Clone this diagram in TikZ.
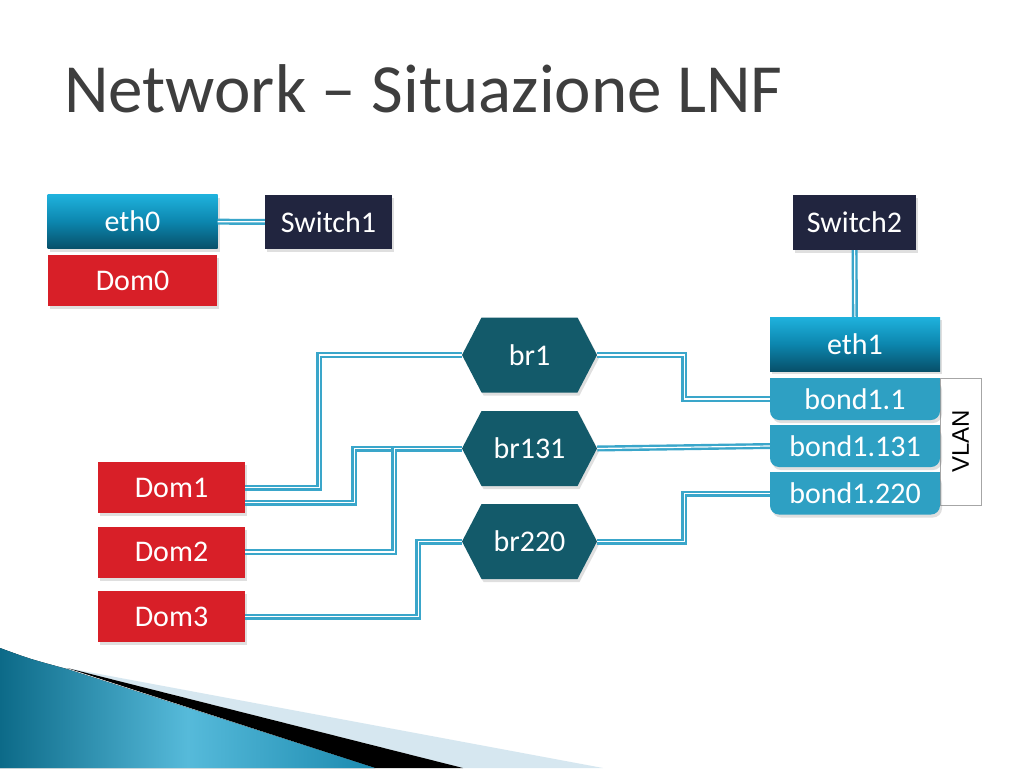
\documentclass[tikz,border=0pt]{standalone}
\usepackage{fontspec}
\setmainfont{Carlito}
\newfontfamily\vlanfont{Liberation Sans}
\usetikzlibrary{shapes,shadows,backgrounds,positioning}

\definecolor{domred}{HTML}{D81F28}
\definecolor{switchnavy}{HTML}{21253F}
\definecolor{ethtop}{HTML}{1FB2DD}
\definecolor{ethmid}{HTML}{0C86AE}
\definecolor{ethbot}{HTML}{07506A}
\definecolor{bondblue}{HTML}{2EA0C3}
\definecolor{bridgeteal}{HTML}{135A6A}
\definecolor{linkblue}{HTML}{3AA6CA}
\definecolor{titlegray}{HTML}{3E3E3E}
\definecolor{swooshdark}{HTML}{0C6A88}
\definecolor{swooshmid}{HTML}{56BADA}
\definecolor{swooshright}{HTML}{1B8AAF}
\definecolor{swooshpale}{HTML}{D6E7F0}

\begin{document}
\begin{tikzpicture}[x=1pt, y=-1pt,
    box/.style={rectangle, inner sep=0pt, text=white, font=\fontsize{30}{32}\selectfont,
        drop shadow={shadow xshift=2pt, shadow yshift=-3pt, opacity=0.25}},
    dom/.style={box, fill=domred, minimum width=147pt, minimum height=51pt},
    iface/.style={box, top color=ethtop, bottom color=ethbot, middle color=ethmid, minimum width=170pt, minimum height=54pt},
    switchbox/.style={box, fill=switchnavy, minimum height=54pt},
    bondbox/.style={box, fill=bondblue, rounded corners=9pt, minimum width=170pt, minimum height=42pt},
    bridge/.style={box, signal, signal to=east and west, signal from=nowhere, signal pointer angle=125,
        fill=bridgeteal, minimum width=135pt, minimum height=75pt},
    link/.style={draw=linkblue, double=white, double distance=1.2pt, line width=2.4pt},
    vlanbox/.style={rectangle, draw=gray!70, line width=0.8pt, fill=white, inner sep=0pt,
        minimum width=127pt, minimum height=41pt, font=\vlanfont\fontsize{24}{26}\selectfont}]
    \useasboundingbox (0,0) rectangle (1024,768);

    % Title
    \node[anchor=base west, inner sep=0pt, text=titlegray, font=\fontsize{69}{71}\selectfont] (title) at (64,112) {Network – Situazione LNF};

    % Dom0 side
    \node[iface] (eth0) at (132.5,221.5) {eth0};
    \node[dom, minimum width=169pt] (dom0) at (132.5,280.5) {Dom0};
    \node[switchbox, minimum width=127pt] (switch1) at (328.5,222) {Switch1};

    % Switch2 and bonding
    \node[switchbox, minimum width=123pt, minimum height=55pt] (switch2) at (854.5,222.5) {Switch2};
    \node[vlanbox, rotate=90] (vlan) at (960.5,441.5) {VLAN};
    \node[iface] (eth1) at (855,344) {eth1};
    \node[bondbox] (bond11) at (855,399) {bond1.1};
    \node[bondbox] (bond131) at (855,446) {bond1.131};
    \node[bondbox] (bond220) at (855,493.5) {bond1.220};

    % Bridges
    \node[bridge] (br1) at (529.5,355) {br1};
    \node[bridge] (br131) at (529.5,448.5) {br131};
    \node[bridge] (br220) at (529.5,541.5) {br220};

    % Guests
    \node[dom] (dom1) at (171.5,487.5) {Dom1};
    \node[dom] (dom2) at (171.5,552) {Dom2};
    \node[dom] (dom3) at (171.5,616.5) {Dom3};

    % Links
    \draw[link] (eth0) -- (switch1);
    \draw[link] (switch2) -- (eth1);
    \draw[link] (dom1.east) -- ++(74,0) |- (br1.west);
    \draw[link] ([yshift=-15pt]dom1.east) -- ++(109,0) |- (br131.west);
    \draw[link] (dom2.east) -- ++(149,0) |- (br131.west);
    \draw[link] (dom3.east) -- ++(173,0) |- (br220.west);
    \draw[link] (br1.east) -- ++(87,0) |- (bond11.west);
    \draw[link] (br131.east) -- (bond131.west);
    \draw[link] (br220.east) -- ++(87,0) |- (bond220.west);

    % Bottom swoosh
    \fill[swooshpale] (67,668) -- (603,768) -- (463,768) -- cycle;
    \fill[black] (67,668) -- (463,768) -- (375,768) -- cycle;
    \fill[left color=swooshdark, right color=swooshright, middle color=swooshmid]
        (0,648) .. controls (30,659) .. (67,669) -- (375,768) -- (0,768) -- cycle;

    % square tops of the bond boxes
    \begin{scope}[on background layer]
        \fill[white] (0,0) rectangle (1024,768);
        \foreach \b in {bond11,bond131,bond220}
            \fill[bondblue] (\b.north west) rectangle (\b.east);
    \end{scope}
\end{tikzpicture}
\end{document}
